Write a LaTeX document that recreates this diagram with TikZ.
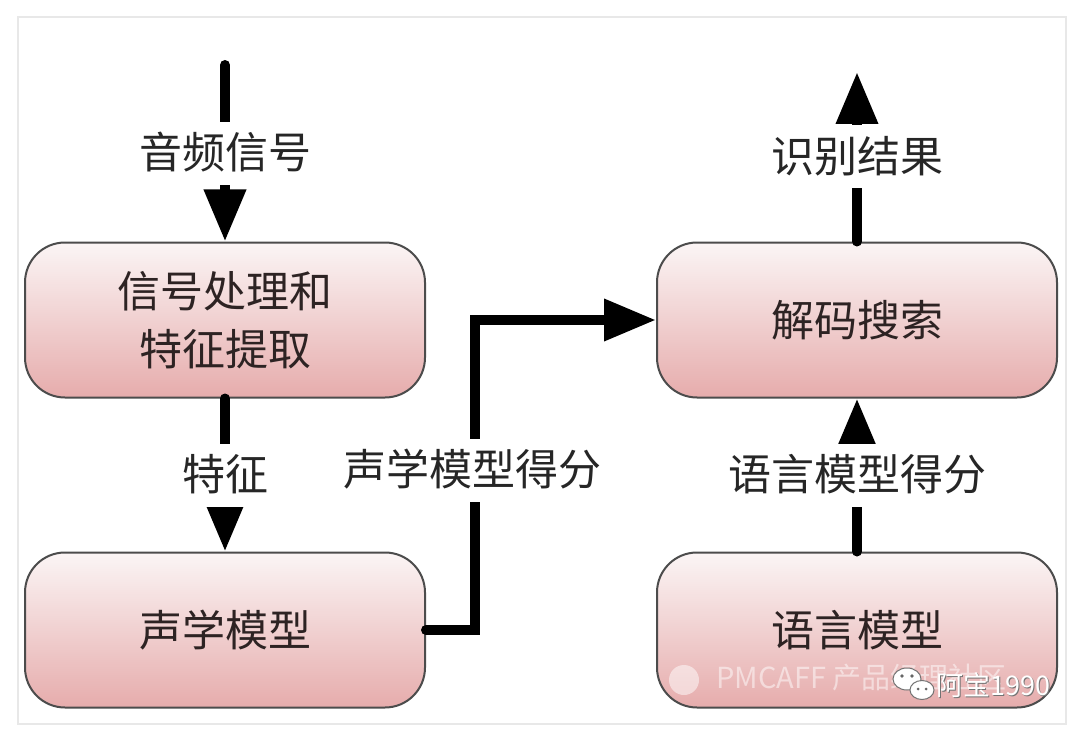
\documentclass[tikz,border=0pt]{standalone}
\usepackage{fontspec}
\setmainfont{Noto Sans CJK SC}
\usetikzlibrary{arrows.meta}
\definecolor{boxtop}{RGB}{251,245,245}
\definecolor{boxbot}{RGB}{230,172,172}
\definecolor{framec}{RGB}{232,232,232}
\definecolor{txt}{RGB}{45,35,35}
\begin{document}
\begin{tikzpicture}[x=1pt,y=-1pt,
  stepbox/.style={draw=black!70, line width=2pt, rounded corners=40pt,
    minimum width=400pt, minimum height=155pt,
    top color=boxtop, bottom color=boxbot,
    font=\fontsize{43}{58}\selectfont, text=txt, align=center},
  flow/.style={line width=10pt, line cap=round, -{Triangle[width=40pt,length=52pt]}},
  lbl/.style={fill=white, font=\fontsize{43}{58}\selectfont, text=black!85,
    text height=37pt, text depth=6pt, inner xsep=4pt, inner ysep=10pt},
  wm/.style={font=\fontsize{29}{30}\selectfont, inner sep=0pt}
]
\useasboundingbox (0,0) rectangle (1080,733);
\fill[white] (0,0) rectangle (1080,733);
\draw[framec, line width=1.5pt] (18,17) rectangle (1066,724);

% boxes
\node[stepbox] (b1) at (225,320) {信号处理和\\特征提取};
\node[stepbox] (b2) at (225,630) {声学模型};
\node[stepbox] (b3) at (857,320) {解码搜索};
\node[stepbox] (b4) at (857,630) {语言模型};

\coordinate (in) at (225,65);
\coordinate (out) at (857,72);

% connectors
\draw[flow] (in) -- node[lbl] (l1) {音频信号} (b1.north);
\draw[flow] (b1.south) -- node[lbl] (l2) {特征} (b2.north);
\draw[flow] (b3.north) -- node[lbl] (l3) {识别结果} (out);
\draw[flow] (b4.north) -- node[lbl] (l4) {语言模型得分} (b3.south);
\draw[flow] (b2.east) -- (475,630) |- (b3.west);
\node[lbl] (l5) at (472,470) {声学模型得分};

% watermark
\begin{scope}[opacity=0.5]
  \fill[white] (684,680) circle (15pt);
  \node[wm, text=white, anchor=west] (wm1) at (716,678) {PMCAFF 产品经理社区};
\end{scope}
\draw[black!55, fill=white, line width=1pt] (907,679) ellipse (14pt and 11pt);
\draw[black!55, fill=white, line width=1pt] (922,690) ellipse (12pt and 9.5pt);
\fill[black!60] (902,676) circle (1.8pt) (912,676) circle (1.8pt)
  (918,689) circle (1.5pt) (926,689) circle (1.5pt);
\node[wm, font=\fontsize{27}{28}\selectfont, text=black!55, anchor=west] at (937.5,686.5) {阿宝1990};
\node[wm, font=\fontsize{27}{28}\selectfont, text=white, anchor=west] (wm2) at (936,685) {阿宝1990};
\end{tikzpicture}
\end{document}
